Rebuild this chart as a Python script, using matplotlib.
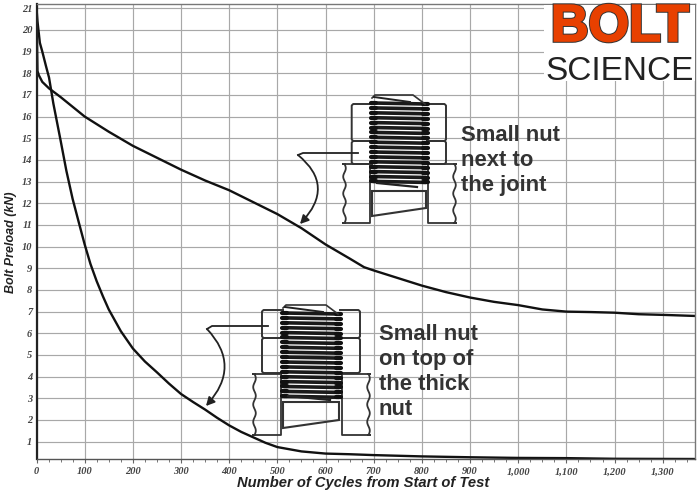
import numpy as np
import matplotlib
matplotlib.use('Agg')
import matplotlib.pyplot as plt
import matplotlib.patheffects as pe
from matplotlib.patches import FancyArrowPatch, Rectangle, Polygon
from matplotlib.path import Path

# values
cycles_upper = [0, 1, 2, 5, 12, 26, 50, 75, 100, 150, 200, 250, 300, 350, 400, 450, 500,
                550, 600, 650, 680, 700, 750, 800, 850, 900, 950, 1000, 1050, 1100, 1150,
                1200, 1250, 1300, 1367]
preload_upper = [21.0, 19.5, 18.1, 17.9, 17.6, 17.3, 16.9, 16.45, 16.0, 15.3, 14.65, 14.1,
                 13.55, 13.05, 12.6, 12.05, 11.5, 10.85, 10.1, 9.45, 9.05, 8.9, 8.55, 8.2,
                 7.9, 7.65, 7.45, 7.3, 7.1, 7.0, 6.98, 6.95, 6.88, 6.85, 6.8]
cycles_lower = [0, 2, 4, 7, 12, 20, 26, 35, 50, 62, 75, 88, 100, 112, 125, 138, 150, 175, 200,
                225, 250, 275, 300, 325, 350, 375, 400, 425, 450, 475, 500, 525, 550, 600,
                650, 700, 800, 900, 1000, 1100, 1200, 1367]
preload_lower = [21.0, 20.4, 20.0, 19.4, 19.0, 18.3, 17.8, 16.6, 14.9, 13.5, 12.2, 11.1, 10.1,
                 9.2, 8.4, 7.7, 7.1, 6.1, 5.3, 4.7, 4.2, 3.68, 3.2, 2.83, 2.48, 2.1, 1.75, 1.45,
                 1.2, 0.95, 0.75, 0.65, 0.55, 0.45, 0.42, 0.38, 0.32, 0.28, 0.25, 0.24, 0.21, 0.2]
x_ticks = list(range(0, 1301, 100))
x_tick_labels = ['0', '100', '200', '300', '400', '500', '600', '700', '800', '900',
                 '1,000', '1,100', '1,200', '1,300']
y_ticks = list(range(1, 22))

TICK_FONT = dict(family='Liberation Serif', weight='bold', style='italic', color='#444444')
LABEL_FONT = dict(family='Liberation Sans', weight='bold', style='italic', color='#222222')
NOTE_FONT = dict(family='Liberation Sans', weight='bold', color='#333333', fontsize=15.8)

W, H = 700, 494
fig = plt.figure(figsize=(W / 100, H / 100), dpi=100, facecolor='white')
ax = fig.add_axes([36.5 / W, 1 - 459 / H, (695 - 36.5) / W, (459 - 4.5) / H])
ax.set_xlim(0, 1367)
ax.set_ylim(0.2, 21.17)

ax.set_xticks(x_ticks)
ax.set_xticklabels(x_tick_labels, fontsize=7.5, **TICK_FONT)
ax.set_xticks(np.arange(0, 1367, 25), minor=True)
ax.set_yticks(y_ticks)
ax.set_yticklabels([str(v) for v in y_ticks], fontsize=7.5, **TICK_FONT)
ax.grid(True, which='major', color='#a8a8a8', lw=0.85)
ax.set_axisbelow(True)
ax.tick_params(axis='y', length=0, pad=3)
ax.tick_params(axis='x', which='major', length=3, width=0.8, color='#666666', pad=3)
ax.tick_params(axis='x', which='minor', length=2, width=0.7, color='#777777')
for name, spine in ax.spines.items():
    spine.set_color('#777777')
    spine.set_linewidth(1.0)
ax.spines['left'].set_color('#222222')
ax.spines['left'].set_linewidth(1.6)
ax.spines['bottom'].set_color('#555555')

ax.plot(cycles_upper, preload_upper, color='#111111', lw=1.7, solid_joinstyle='round')
ax.plot(cycles_lower, preload_lower, color='#111111', lw=1.7, solid_joinstyle='round')

fig.text(363.5 / W, 1 - 483 / H, 'Number of Cycles from Start of Test', fontsize=10.6,
         ha='center', va='center', **LABEL_FONT)
fig.text(11 / W, 1 - 242 / H, 'Bolt Preload (kN)', fontsize=9, rotation=90,
         ha='center', va='center', **LABEL_FONT)

# overlay in pixel coordinates for the drawings and the logo
ov = fig.add_axes([0, 0, 1, 1], facecolor='none')
ov.set_xlim(0, W)
ov.set_ylim(H, 0)
ov.axis('off')

EDGE = '#333333'


def joint_block(x0, x1, y0, y1, wavy_left):
    # clamped plate with a broken edge on the outer side
    ys = np.linspace(y0, y1, 61)
    wave = 1.3 * np.sin((ys - y0) / (y1 - y0) * 2 * np.pi * 3.5)
    if wavy_left:
        xs = x0 + 1.5 + wave
        pts = [(x1, y0), (x0, y0)] + list(zip(xs, ys)) + [(x0, y1), (x1, y1)]
    else:
        xs = x1 - 1.5 + wave
        pts = [(x0, y0), (x1, y0)] + list(zip(xs, ys)) + [(x1, y1), (x0, y1)]
    pts = np.array(pts)
    closed = np.vstack([pts, pts[0]])
    ov.plot(closed[:, 0], closed[:, 1], color=EDGE, lw=1.3)


def draw_bolt(nut_x, nut_y, thread_x, thread_y, shank_y, left_j, right_j, joint_y):
    tx0, tx1 = thread_x
    # two nuts, cut away where the bolt passes through
    for top, bottom in ((nut_y[0], nut_y[1]), (nut_y[1], nut_y[2])):
        ov.plot([tx0, nut_x[0] + 1.5, nut_x[0], nut_x[0], nut_x[0] + 1.5, tx0],
                [top, top, top + 1.5, bottom - 1.5, bottom, bottom], color=EDGE, lw=1.4)
        ov.plot([tx1, nut_x[1] - 1.5, nut_x[1], nut_x[1], nut_x[1] - 1.5, tx1],
                [top, top, top + 1.5, bottom - 1.5, bottom, bottom], color=EDGE, lw=1.4)
    joint_block(left_j[0], left_j[1], joint_y[0], joint_y[1], True)
    joint_block(right_j[0], right_j[1], joint_y[0], joint_y[1], False)
    # bolt thread
    rows = np.arange(thread_y[0] + 8, thread_y[1] - 3, 4.9)
    for y in rows:
        ov.plot([tx0 + 1, tx1 - 1], [y, y + 1.0], color='#1a1a1a', lw=2.6,
                solid_capstyle='round')
        ov.plot([tx0 - 1, tx0 + 4], [y, y], color='#111111', lw=3.0, solid_capstyle='round')
        ov.plot([tx1 - 4, tx1 + 1], [y + 1, y + 1], color='#111111', lw=3.0,
                solid_capstyle='round')
    # chamfered bolt end
    ov.plot([tx0, tx0 + 3, tx1 - 14, tx1 - 2], [thread_y[0] + 3, thread_y[0], thread_y[0],
                                                thread_y[0] + 9], color=EDGE, lw=1.2)
    ov.plot([tx0 + 2, tx1 - 17], [thread_y[0] + 2, thread_y[0] + 7], color='#222222', lw=1.4)
    ov.plot([tx0 + 5, tx1 - 10], [thread_y[1] - 5, thread_y[1] - 1], color='#222222', lw=1.6)
    # plain shank
    ov.add_patch(Polygon([(tx0, shank_y[0]), (tx1 - 1, shank_y[0]), (tx1 - 1, shank_y[1] - 8),
                          (tx0, shank_y[1])], closed=True, fill=False, ec=EDGE, lw=1.5))


def leader(x_start, y_start, x_turn, y_turn, x_bulge, y_bulge, x_tip, y_tip):
    ov.plot([x_start, x_turn + 5, x_turn], [y_start, y_start, y_turn], color='#222222', lw=1.3)
    route = Path([(x_turn, y_turn), (x_bulge, y_bulge), (x_tip, y_tip)],
                 [Path.MOVETO, Path.CURVE3, Path.CURVE3])
    ov.add_patch(FancyArrowPatch(path=route, arrowstyle='-|>,head_length=5,head_width=2.6',
                                 color='#222222', lw=1.3))


draw_bolt((351.7, 446), (104, 141, 164), (372, 427), (95, 188), (191, 216),
          (343, 370), (428, 456), (164, 223))
draw_bolt((262, 360), (310, 338, 373), (283, 340), (305, 401), (402, 428),
          (253, 281), (342, 370), (374, 435))

# leader arrows
leader(358, 153, 298, 155, 336, 186, 300, 224)
leader(268, 326, 207, 329, 242, 366, 206, 406)

for y, line in zip((135, 160, 185), ('Small nut', 'next to', 'the joint')):
    ov.text(461, y, line, va='center', ha='left', **NOTE_FONT)
for y, line in zip((334, 359, 384, 409), ('Small nut', 'on top of', 'the thick', 'nut')):
    ov.text(379, y, line, va='center', ha='left', **NOTE_FONT)

# logo
ov.add_patch(Rectangle((544, 5.5), 150.5, 76, fc='white', ec='none'))
ov.text(620, 41, 'BOLT', fontsize=37.5, family='Liberation Sans', weight='bold',
        color='#E84000', ha='center', va='baseline',
        path_effects=[pe.Stroke(linewidth=2.6, foreground='#333333', joinstyle='miter'),
                      pe.Stroke(linewidth=1.2, foreground='#E84000', joinstyle='miter'),
                      pe.Normal()])
ov.text(619.5, 80, 'SCIENCE', fontsize=24, family='Liberation Sans', color='#222222',
        ha='center', va='baseline')

fig.savefig('out.png', dpi=100)
